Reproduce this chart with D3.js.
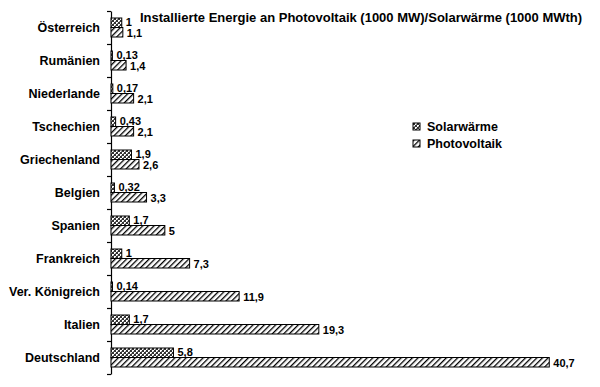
<!doctype html>
<html>
<head>
<meta charset="utf-8"/>
<title>Photovoltaik / Solarwärme</title>
<script src="https://d3js.org/d3.v7.min.js"></script>
<style>
  body { margin: 0; background: #fff; }
  text { font-family: "Liberation Sans", Arial, sans-serif; font-weight: bold; fill: #000; }
</style>
</head>
<body>
<script>
// data (1000 MW / 1000 MWth)
const categories = ["Österreich", "Rumänien", "Niederlande", "Tschechien", "Griechenland",
  "Belgien", "Spanien", "Frankreich", "Ver. Königreich", "Italien", "Deutschland"];
const solar = [1, 0.13, 0.17, 0.43, 1.9, 0.32, 1.7, 1, 0.14, 1.7, 5.8];
const pv    = [1.1, 1.4, 2.1, 2.1, 2.6, 3.3, 5, 7.3, 11.9, 19.3, 40.7];
const seriesNames = ["Solarwärme", "Photovoltaik"];
const title = "Installierte Energie an Photovoltaik (1000 MW)/Solarwärme (1000 MWth)";

const W = 600, H = 387;
const svg = d3.select("body").append("svg").attr("width", W).attr("height", H);

// fill patterns
const defs = svg.append("defs");
let p1 = defs.append("pattern").attr("id", "pSolar").attr("patternUnits", "userSpaceOnUse")
  .attr("width", 4).attr("height", 4);
p1.append("rect").attr("width", 4).attr("height", 4).attr("fill", "#fff");
p1.append("rect").attr("width", 2).attr("height", 2).attr("fill", "#333");
p1.append("rect").attr("x", 2).attr("y", 2).attr("width", 2).attr("height", 2).attr("fill", "#333");
p1.append("rect").attr("x", 1).attr("y", 3).attr("width", 1).attr("height", 1).attr("fill", "#888");
p1.append("rect").attr("x", 3).attr("y", 1).attr("width", 1).attr("height", 1).attr("fill", "#888");

let p2 = defs.append("pattern").attr("id", "pPv").attr("patternUnits", "userSpaceOnUse")
  .attr("width", 4).attr("height", 4).attr("patternTransform", "rotate(45)");
p2.append("rect").attr("width", 4).attr("height", 4).attr("fill", "#fff");
p2.append("rect").attr("width", 1.3).attr("height", 4).attr("fill", "#000");

const fills = ["url(#pSolar)", "url(#pPv)"];

// scales
const x = d3.scaleLinear().domain([0, 41]).range([111, 552.5]);
const y = d3.scaleBand().domain(categories).range([11, 374]);
const y1 = d3.scaleBand().domain(seriesNames).range([7, 26]);
const yEdge = d3.scaleLinear().domain([0, categories.length]).range([11, 374]);

// axis with ticks on category boundaries
svg.append("g")
  .attr("transform", "translate(111,0)")
  .call(d3.axisLeft(yEdge).tickValues(d3.range(categories.length + 1))
    .tickFormat("").tickSize(4).tickSizeOuter(0))
  .call(g => g.selectAll("path, line").attr("stroke", "#000").attr("stroke-width", 1.2));

// category labels
svg.selectAll(".cat")
  .data(categories)
  .enter().append("text")
  .attr("class", "cat")
  .attr("x", 100)
  .attr("y", d => y(d) + y.bandwidth() / 2)
  .attr("dy", "0.35em")
  .attr("text-anchor", "end")
  .style("font-size", "12.5px")
  .text(d => d);

const rows = [];
categories.forEach((c, i) => {
  rows.push({ cat: c, s: seriesNames[0], v: solar[i], k: 0 });
  rows.push({ cat: c, s: seriesNames[1], v: pv[i], k: 1 });
});

svg.selectAll(".bar")
  .data(rows)
  .enter().append("rect")
  .attr("class", "bar")
  .attr("x", x(0))
  .attr("y", d => y(d.cat) + y1(d.s))
  .attr("width", d => x(d.v) - x(0))
  .attr("height", y1.bandwidth())
  .attr("fill", d => fills[d.k])
  .attr("stroke", "#000")
  .attr("stroke-width", 1);

svg.selectAll(".val")
  .data(rows)
  .enter().append("text")
  .attr("class", "val")
  .attr("x", d => x(d.v) + 4)
  .attr("y", d => y(d.cat) + y1(d.s) + y1.bandwidth() / 2 + (d.k ? 0.5 : -0.5))
  .attr("dy", "0.35em")
  .style("font-size", "11px")
  .text(d => String(d.v).replace(".", ","));

// title
svg.append("text")
  .attr("x", 140).attr("y", 22)
  .style("font-size", "13px")
  .text(title);

// legend
const leg = svg.selectAll(".leg")
  .data(seriesNames)
  .enter().append("g")
  .attr("class", "leg")
  .attr("transform", (d, i) => `translate(413,${123 + i * 17})`);
leg.append("rect").attr("width", 7).attr("height", 7)
  .attr("fill", (d, i) => fills[i]).attr("stroke", "#000");
leg.append("text").attr("x", 14).attr("y", 3.5).attr("dy", "0.35em")
  .style("font-size", "12.5px").text(d => d);
</script>
</body>
</html>
